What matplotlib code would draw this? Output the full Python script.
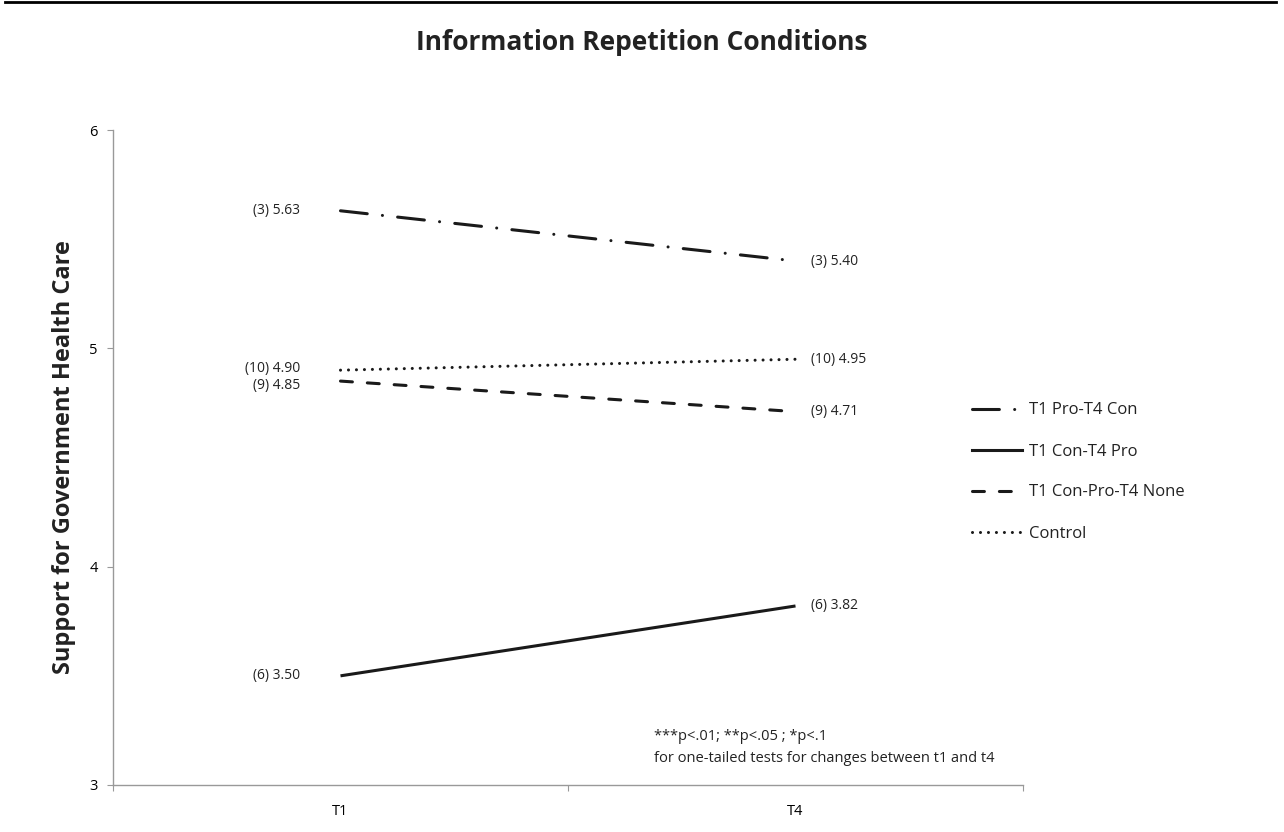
import matplotlib
matplotlib.use("Agg")
import matplotlib.pyplot as plt
from matplotlib.lines import Line2D

plt.rcParams['font.family'] = ['Open Sans', 'DejaVu Sans']

categories = ["T1", "T4"]
series_names = ["T1 Pro-T4 Con", "T1 Con-T4 Pro", "T1 Con-Pro-T4 None", "Control"]
values = {
    "T1 Pro-T4 Con": [5.63, 5.40],
    "T1 Con-T4 Pro": [3.50, 3.82],
    "T1 Con-Pro-T4 None": [4.85, 4.71],
    "Control": [4.90, 4.95],
}
counts = {
    "T1 Pro-T4 Con": [3, 3],
    "T1 Con-T4 Pro": [6, 6],
    "T1 Con-Pro-T4 None": [9, 9],
    "Control": [10, 10],
}
yticks = [3, 4, 5, 6]

styles = {
    "T1 Pro-T4 Con": (0, (8.8, 5.0, 0.01, 5.0)),
    "T1 Con-T4 Pro": "solid",
    "T1 Con-Pro-T4 None": (0, (3.9, 4.9)),
    "Control": (0, (0.01, 2.6)),
}
# small vertical nudges (points) for left-side labels to avoid overlap
left_nudge = {"T1 Pro-T4 Con": 0, "T1 Con-T4 Pro": 0, "T1 Con-Pro-T4 None": -3.5, "Control": 1}
LW = 2.2

fig = plt.figure(figsize=(12.84, 8.32), dpi=100)
ax = fig.add_axes([113/1284, 47/832, 910/1284, 655/832])

x = list(range(len(categories)))
for name in series_names:
    ax.plot(x, values[name], color="#1a1a1a", lw=LW, linestyle=styles[name],
            dash_capstyle="round", solid_capstyle="butt", label=name)

for name in series_names:
    v = values[name]
    c = counts[name]
    ax.annotate(f"({c[0]}) {v[0]:.2f}", xy=(x[0], v[0]), xytext=(-29, left_nudge[name]),
                textcoords="offset points", ha="right", va="center",
                fontsize=10, color="#222222")
    ax.annotate(f"({c[1]}) {v[1]:.2f}", xy=(x[1], v[1]), xytext=(11, 0),
                textcoords="offset points", ha="left", va="center",
                fontsize=10, color="#222222")

ax.set_xlim(-0.5, 1.5)
ax.set_ylim(3, 6)
ax.set_yticks(yticks)
ax.set_yticklabels([str(t) for t in yticks], fontsize=10.5)
ax.set_xticks([-0.5, 0.5, 1.5], minor=False)
ax.set_xticklabels([])
ax.set_xticks(x, minor=True)
ax.set_xticklabels(categories, minor=True, fontsize=10.5)
ax.tick_params(axis="x", which="minor", length=0, pad=14)
ax.tick_params(axis="x", which="major", length=4, color="#999999", direction="out")
ax.tick_params(axis="y", length=4, color="#999999", pad=7)
for s in ["top", "right"]:
    ax.spines[s].set_visible(False)
for s in ["left", "bottom"]:
    ax.spines[s].set_color("#999999")
    ax.spines[s].set_linewidth(1.0)

ax.set_ylabel("Support for Government Health Care", fontsize=17, fontweight="bold",
              color="#222222")
ax.yaxis.set_label_coords((76 - 113) / 910, 0.5)

fig.text(654/1284, 1 - 737/832, "***p<.01; **p<.05 ; *p<.1",
         ha="left", va="center", fontsize=10.5, color="#222222")
fig.text(654/1284, 1 - 758/832, "for one-tailed tests for changes between t1 and t4",
         ha="left", va="center", fontsize=10.5, color="#222222")

fig.text(0.5, 1 - 42/832, "Information Repetition Conditions", ha="center", va="center",
         fontsize=19, fontweight="bold", color="#222222")

fig.add_artist(Line2D([5/1284, 1276/1284], [1 - 2/832, 1 - 2/832], color="black", lw=2,
                      transform=fig.transFigure))

handles = [Line2D([0], [0], color="#1a1a1a", lw=LW, linestyle=styles[n], dash_capstyle="round")
           for n in series_names]
fig.legend(handles, series_names, loc="center left", bbox_to_anchor=(957/1284, 1 - 472/832),
           frameon=False, fontsize=12, handlelength=3.0, handletextpad=0.4, labelspacing=1.5,
           labelcolor="#222222")

fig.savefig("out.png", dpi=100)
